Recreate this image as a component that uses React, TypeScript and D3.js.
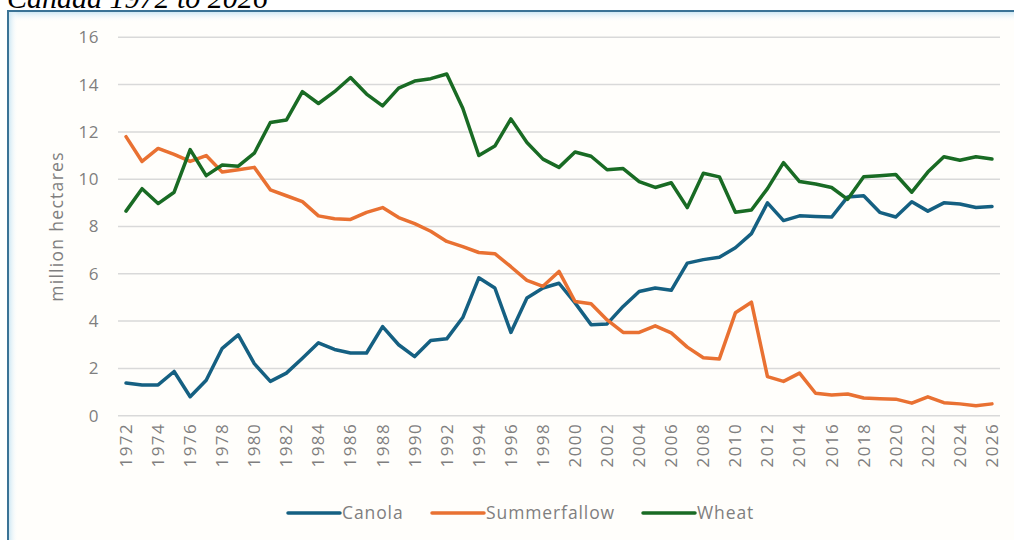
import { useEffect, useRef } from 'react';
import * as d3 from 'd3';

const years = d3.range(1972, 2027);

const canola = [
  1.38, 1.3, 1.3, 1.87, 0.8, 1.5, 2.85, 3.42, 2.2, 1.45,
  1.8, 2.43, 3.08, 2.8, 2.65, 2.65, 3.77, 3.0, 2.5, 3.18,
  3.25, 4.15, 5.83, 5.4, 3.52, 4.98, 5.4, 5.6, 4.77, 3.85,
  3.88, 4.62, 5.25, 5.4, 5.3, 6.45, 6.6, 6.7, 7.1, 7.7,
  9.0, 8.25, 8.45, 8.42, 8.4, 9.25, 9.3, 8.6, 8.4, 9.05,
  8.65, 9.0, 8.95, 8.8, 8.85,
];

const summerfallow = [
  11.8, 10.75, 11.3, 11.05, 10.75, 11.0, 10.3, 10.4, 10.5, 9.55,
  9.3, 9.05, 8.45, 8.33, 8.3, 8.6, 8.8, 8.38, 8.12, 7.8,
  7.37, 7.15, 6.9, 6.85, 6.3, 5.72, 5.47, 6.1, 4.83, 4.73,
  4.05, 3.52, 3.52, 3.8, 3.5, 2.9, 2.45, 2.4, 4.35, 4.8,
  1.65, 1.45, 1.8, 0.95, 0.88, 0.92, 0.75, 0.72, 0.7, 0.53,
  0.8, 0.55, 0.5, 0.42, 0.5,
];

const wheat = [
  8.65, 9.6, 8.97, 9.45, 11.25, 10.15, 10.6, 10.55, 11.1, 12.4,
  12.5, 13.7, 13.2, 13.7, 14.3, 13.6, 13.1, 13.85, 14.15, 14.25,
  14.45, 13.0, 11.0, 11.4, 12.55, 11.55, 10.85, 10.5, 11.15, 10.97,
  10.4, 10.45, 9.9, 9.65, 9.85, 8.8, 10.25, 10.1, 8.6, 8.7,
  9.6, 10.7, 9.9, 9.8, 9.65, 9.15, 10.1, 10.15, 10.2, 9.45,
  10.3, 10.95, 10.8, 10.95, 10.85,
];

const yTicks = [0, 2, 4, 6, 8, 10, 12, 14, 16];

const series = [
  { name: 'Canola', values: canola, color: '#156082' },
  { name: 'Summerfallow', values: summerfallow, color: '#e97132' },
  { name: 'Wheat', values: wheat, color: '#196b24' },
];

const W = 1014;
const H = 540;
const FONT = '"Open Sans", "Noto Sans", Arial, sans-serif';

const CropChart = () => {
  const ref = useRef<SVGSVGElement | null>(null);

  useEffect(() => {
    if (!ref.current) return;
    const svg = d3.select(ref.current);
    svg.selectAll('*').remove();

    const left = 118;
    const right = 1000;
    const top = 37.3;
    const bottom = 415.7;

    const defs = svg.append('defs');
    const gTop = defs.append('linearGradient').attr('id', 'glowTop').attr('x1', 0).attr('y1', 0).attr('x2', 0).attr('y2', 1);
    gTop.append('stop').attr('offset', '0%').attr('stop-color', '#cfe8f4');
    gTop.append('stop').attr('offset', '100%').attr('stop-color', '#ffffff').attr('stop-opacity', 0);
    const gLeft = defs.append('linearGradient').attr('id', 'glowLeft').attr('x1', 0).attr('y1', 0).attr('x2', 1).attr('y2', 0);
    gLeft.append('stop').attr('offset', '0%').attr('stop-color', '#cfe8f4');
    gLeft.append('stop').attr('offset', '100%').attr('stop-color', '#ffffff').attr('stop-opacity', 0);

    svg.append('rect').attr('width', W).attr('height', H).attr('fill', '#ffffff');

    // caption, cut off by the top of the page in the source
    svg
      .append('text')
      .attr('x', 7)
      .attr('y', 8)
      .attr('font-family', '"Liberation Serif", "Times New Roman", serif')
      .attr('font-style', 'italic')
      .attr('font-size', 30)
      .attr('fill', '#000')
      .text('Canada 1972 to 2026');

    // frame
    svg
      .append('rect')
      .attr('x', 8)
      .attr('y', 11)
      .attr('width', W + 20)
      .attr('height', H + 20)
      .attr('fill', '#fffefb')
      .attr('stroke', '#3a7396')
      .attr('stroke-width', 2);
    svg.append('rect').attr('x', 9).attr('y', 12).attr('width', W).attr('height', 10).attr('fill', 'url(#glowTop)');
    svg.append('rect').attr('x', 9).attr('y', 12).attr('width', 9).attr('height', H).attr('fill', 'url(#glowLeft)');

    const x = d3.scalePoint<number>().domain(years).range([left, right]).padding(0.5);
    const y = d3.scaleLinear().domain([0, 16]).range([bottom, top]);

    // gridlines
    svg
      .append('g')
      .selectAll('line')
      .data(yTicks)
      .enter()
      .append('line')
      .attr('x1', left)
      .attr('x2', right)
      .attr('y1', (d) => y(d))
      .attr('y2', (d) => y(d))
      .attr('stroke', '#d9d9d9')
      .attr('stroke-width', 1.5);

    // y tick labels
    svg
      .append('g')
      .selectAll('text')
      .data(yTicks)
      .enter()
      .append('text')
      .attr('x', 99)
      .attr('y', (d) => y(d))
      .attr('dy', '0.35em')
      .attr('text-anchor', 'end')
      .attr('font-family', FONT)
      .attr('font-size', 17)
      .attr('letter-spacing', 0.5)
      .attr('fill', '#7f7f7f')
      .text((d) => d);

    // x tick labels, every second year
    svg
      .append('g')
      .selectAll('text')
      .data(years.filter((d) => (d - 1972) % 2 === 0))
      .enter()
      .append('text')
      .attr('transform', (d) => `translate(${x(d)},${bottom + 7}) rotate(-90)`)
      .attr('dy', '0.35em')
      .attr('text-anchor', 'end')
      .attr('font-family', FONT)
      .attr('font-size', 17)
      .attr('letter-spacing', 1.5)
      .attr('fill', '#7f7f7f')
      .text((d) => d);

    // y axis title
    svg
      .append('text')
      .attr('transform', `translate(57,${(top + bottom) / 2}) rotate(-90)`)
      .attr('dy', '0.35em')
      .attr('text-anchor', 'middle')
      .attr('font-family', FONT)
      .attr('font-size', 17.5)
      .attr('letter-spacing', 1.3)
      .attr('fill', '#7f7f7f')
      .text('million hectares');

    const line = d3
      .line<number>()
      .x((_, i) => x(years[i]) ?? 0)
      .y((d) => y(d));

    svg
      .append('g')
      .selectAll('path')
      .data(series)
      .enter()
      .append('path')
      .attr('d', (s) => line(s.values))
      .attr('fill', 'none')
      .attr('stroke', (s) => s.color)
      .attr('stroke-width', 3.5)
      .attr('stroke-linejoin', 'round')
      .attr('stroke-linecap', 'round');

    // legend
    const legendX = [288, 432, 643];
    const legend = svg
      .append('g')
      .selectAll('g')
      .data(series)
      .enter()
      .append('g')
      .attr('transform', (_, i) => `translate(${legendX[i]},513)`);
    legend
      .append('line')
      .attr('x1', 0)
      .attr('x2', 52)
      .attr('stroke', (s) => s.color)
      .attr('stroke-width', 3.5)
      .attr('stroke-linecap', 'round');
    legend
      .append('text')
      .attr('x', 54)
      .attr('dy', '0.35em')
      .attr('font-family', FONT)
      .attr('font-size', 17.5)
      .attr('letter-spacing', 0.9)
      .attr('fill', '#7f7f7f')
      .text((s) => s.name);
  }, []);

  return (
    <svg
      ref={ref}
      width={W}
      height={H}
      style={{ position: 'absolute', left: 0, top: 0, display: 'block' }}
      role="img"
      aria-label="Crop area chart"
    />
  );
};

export default function App() {
  return <CropChart />;
}
